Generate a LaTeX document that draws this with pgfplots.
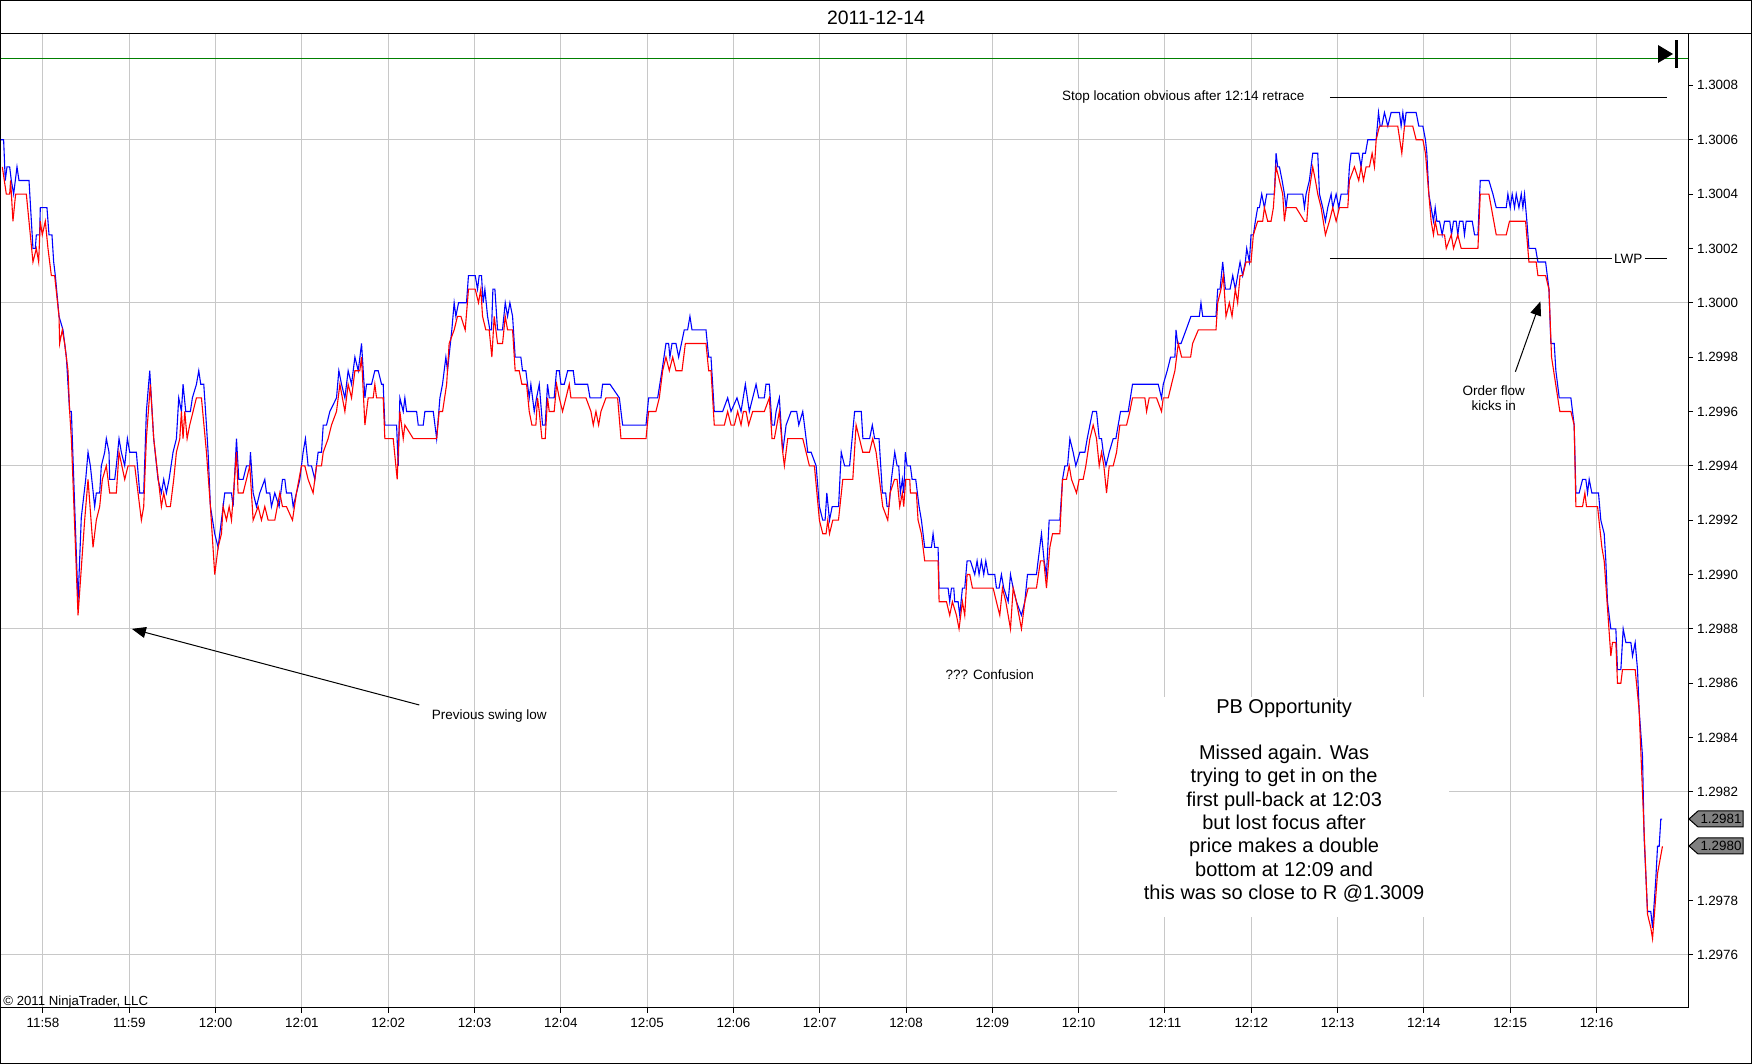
\documentclass[border=0pt]{standalone}
\usepackage{pgfplots}
\pgfplotsset{compat=1.18}
\usepackage{pgfplotstable}
\usepackage{fontspec}
\setmainfont{Liberation Sans}
\usetikzlibrary{arrows.meta}
\definecolor{gridgray}{RGB}{200,200,200}
\definecolor{rline}{RGB}{0,128,0}
\definecolor{tagg}{RGB}{128,128,128}
% time in minutes after 11:58, price in pips relative to 1.3000
\pgfplotstableread{
t p
-0.498 6
-0.456 6
-0.437 4.5
-0.417 5
-0.386 5
-0.367 4.5
-0.340 4
-0.301 5
-0.278 4.5
-0.162 4.5
-0.116 2
-0.089 2
-0.077 2.5
-0.039 2.5
-0.031 3.5
0.046 3.5
0.070 2.5
0.104 2.5
0.124 1.5
0.143 1.0
0.186 -0.5
0.232 -1
0.271 -2
0.309 -4
0.329 -4
0.406 -11
0.444 -7.9
0.495 -6.5
0.522 -5.5
0.549 -6
0.599 -7.5
0.618 -7
0.657 -7
0.676 -6
0.715 -5.5
0.734 -5
0.765 -5.5
0.773 -6.5
0.831 -6.5
0.850 -6
0.881 -5
0.908 -5.5
0.947 -6
0.978 -5
1.005 -5.5
1.082 -5.5
1.121 -7
1.167 -7
1.198 -4
1.237 -2.5
1.283 -5
1.333 -6.5
1.372 -7
1.399 -6.5
1.430 -7
1.461 -6.5
1.507 -5.5
1.546 -5
1.573 -3.5
1.604 -4
1.623 -3
1.654 -4
1.708 -4
1.731 -3.5
1.778 -3
1.805 -2.5
1.828 -3
1.863 -3
1.894 -4.5
1.913 -5.5
1.940 -7.5
1.990 -8.5
2.029 -9
2.068 -8
2.106 -7
2.184 -7
2.203 -7.5
2.242 -5
2.269 -6.5
2.319 -6.5
2.358 -6
2.396 -6
2.404 -5.5
2.435 -7
2.474 -7.5
2.512 -7
2.570 -6.5
2.590 -7
2.628 -7
2.647 -7.5
2.686 -7
2.736 -7.5
2.775 -6.5
2.802 -6.5
2.821 -7
2.879 -7
2.899 -7.5
2.937 -7
2.976 -6.5
3.014 -5.5
3.041 -5
3.072 -6
3.111 -6
3.150 -6.5
3.188 -5.5
3.227 -5.5
3.247 -4.5
3.285 -4.5
3.324 -4
3.401 -3.5
3.428 -2.5
3.459 -3
3.498 -3.5
3.536 -2.5
3.575 -3
3.614 -2
3.653 -2.5
3.691 -1.5
3.730 -3.5
3.749 -3
3.807 -3
3.845 -2.5
3.884 -2.5
3.923 -3
3.942 -3
3.961 -4.5
4.097 -4.5
4.116 -6
4.135 -3.5
4.174 -4
4.193 -3.5
4.213 -4
4.329 -4
4.348 -4.5
4.406 -4.5
4.425 -4
4.522 -4
4.561 -5
4.599 -3.5
4.629 -3
4.668 -2
4.687 -2.5
4.737 -1
4.764 0
4.784 -0.5
4.815 0
4.907 0
4.930 1
5.008 1
5.035 0.5
5.054 1
5.081 1
5.100 0
5.120 0.5
5.151 -0.5
5.178 -1
5.197 -1
5.213 0.5
5.236 0.5
5.267 -1
5.324 -1
5.356 0
5.383 -0.5
5.410 0
5.441 -0.5
5.471 -2
5.537 -2
5.556 -2.5
5.595 -2.5
5.614 -3
5.634 -3.5
5.653 -3
5.692 -4
5.719 -3.5
5.750 -3
5.788 -4.5
5.819 -4.5
5.846 -3
5.866 -3.5
5.923 -3.5
5.950 -2.5
5.982 -2.5
6.001 -3
6.040 -3
6.079 -2.5
6.144 -2.5
6.164 -3
6.311 -3
6.338 -3.5
6.465 -3.5
6.484 -3
6.570 -3
6.678 -3.5
6.716 -4.5
6.987 -4.5
7.017 -3.5
7.122 -3.5
7.172 -2.5
7.218 -1.5
7.249 -1.5
7.264 -2
7.288 -1.5
7.334 -1.5
7.365 -2
7.430 -1
7.469 -1
7.496 -0.5
7.520 -1
7.682 -1
7.713 -2
7.740 -2
7.778 -4
7.875 -4
7.933 -3.5
7.972 -4
8.041 -3.5
8.088 -4
8.138 -3
8.184 -4
8.262 -3
8.293 -3.5
8.358 -3.5
8.377 -3
8.416 -3
8.447 -4.5
8.474 -4.5
8.494 -4
8.532 -3.5
8.571 -5.5
8.610 -4.5
8.668 -4
8.733 -4
8.757 -4.5
8.803 -4
8.842 -5
8.861 -5.5
8.900 -5.5
8.958 -6
8.996 -7.5
9.035 -8
9.062 -8
9.082 -7
9.113 -8
9.144 -7.5
9.218 -7.5
9.249 -5.5
9.288 -6
9.346 -6
9.404 -4
9.481 -4
9.500 -5
9.578 -5
9.609 -4.5
9.636 -5
9.687 -5
9.726 -7
9.764 -7
9.780 -7.5
9.803 -7.5
9.830 -6.5
9.869 -5.5
9.896 -6
9.915 -6
9.934 -7
9.957 -6.5
9.973 -7
9.992 -5.5
10.012 -6
10.050 -6
10.070 -6.5
10.112 -6.5
10.151 -7.5
10.178 -8
10.216 -9
10.294 -9
10.313 -8.5
10.332 -9
10.371 -9
10.383 -10.5
10.487 -10.5
10.506 -11
10.526 -10.5
10.553 -10.5
10.564 -11
10.603 -11
10.622 -11.5
10.653 -10.5
10.680 -10.5
10.707 -9.5
10.746 -9.5
10.796 -10
10.823 -9.5
10.846 -10
10.873 -9.5
10.900 -10
10.924 -9.5
10.951 -10
11.028 -10
11.047 -10.5
11.078 -10.5
11.105 -10
11.132 -10.5
11.183 -11
11.210 -10
11.241 -10.5
11.279 -11
11.337 -11.5
11.376 -11
11.407 -10
11.511 -10
11.530 -9.5
11.569 -8.5
11.600 -9.5
11.627 -10
11.658 -8
11.782 -8
11.813 -6.5
11.840 -6
11.871 -6
11.898 -5
11.936 -5.5
11.967 -6
12.014 -5.5
12.072 -5.5
12.099 -5
12.130 -4.5
12.161 -4
12.207 -4
12.238 -5
12.265 -5
12.285 -5.5
12.316 -6
12.354 -5.5
12.400 -5
12.431 -5
12.458 -4.5
12.485 -4
12.574 -4
12.624 -3
12.922 -3
12.960 -3.5
12.980 -3
13.026 -2.5
13.065 -2
13.115 -2
13.128 -1
13.147 -1.5
13.186 -1.5
13.244 -1
13.301 -0.5
13.398 -0.5
13.417 0
13.437 -0.5
13.591 -0.5
13.611 0.5
13.638 0.5
13.669 1.5
13.700 0.5
13.754 0.5
13.785 1
13.815 0.5
13.842 1
13.870 1.5
13.900 1
13.931 1.5
13.947 2
13.978 1.5
13.997 2.5
14.024 2.5
14.047 3
14.074 3.5
14.094 3.5
14.121 4
14.152 3.5
14.179 4
14.268 4
14.287 5.5
14.306 5
14.326 5
14.357 4.5
14.384 4
14.403 3.5
14.422 4
14.596 4
14.616 3.5
14.635 4
14.673 4.5
14.712 5.5
14.770 5.5
14.790 4
14.828 3.5
14.859 3
14.886 3.5
14.925 4
14.944 3.5
14.983 4
15.014 3.5
15.041 4
15.118 4
15.137 5
15.156 5.5
15.245 5.5
15.272 5
15.292 5.5
15.323 5.5
15.350 6
15.447 6
15.474 7
15.493 6.5
15.512 6.5
15.543 7
15.582 6.5
15.620 7
15.717 7
15.736 6.5
15.756 7
15.775 6.5
15.794 7
15.910 7
15.941 6.5
15.988 6.5
16.018 6
16.034 5.5
16.057 4
16.084 3.5
16.111 3
16.131 3.5
16.150 3
16.181 3
16.212 2.5
16.239 3
16.300 3
16.320 2.5
16.343 3
16.374 3
16.393 2.5
16.413 3
16.452 3
16.470 2.5
16.490 3
16.560 3
16.587 2.5
16.626 2.5
16.653 4.5
16.753 4.5
16.800 4
16.838 3.5
16.954 3.5
16.973 4
17.000 3.5
17.023 4
17.050 3.5
17.070 4
17.101 3.5
17.128 4
17.147 3.5
17.166 4
17.193 3
17.217 2
17.294 2
17.321 1.5
17.410 1.5
17.449 0.5
17.471 -1.5
17.510 -1.5
17.529 -2.5
17.568 -3.5
17.703 -3.5
17.722 -4
17.741 -4.5
17.761 -7
17.799 -7
17.838 -6.5
17.876 -6.5
17.896 -7
17.915 -6.5
17.946 -7
18.023 -7
18.050 -8
18.089 -8.5
18.108 -9.5
18.127 -11
18.166 -12
18.224 -12
18.243 -13.5
18.282 -13.5
18.309 -12
18.340 -12.5
18.398 -12.5
18.417 -13
18.448 -12.5
18.475 -13.5
18.494 -15
18.533 -16.7
18.552 -19.7
18.591 -22.4
18.629 -22.4
18.649 -23
18.687 -21.2
18.707 -20
18.726 -20
18.745 -19
18.760 -19
}\askdata
\pgfplotstableread{
t p
-0.471 5
-0.425 4
-0.386 4
-0.375 4.5
-0.348 3
-0.317 4
-0.193 4
-0.116 1.5
-0.077 2
-0.050 1.5
-0.031 3
-0.008 2.5
0.027 3
0.058 2
0.097 1
0.135 1
0.186 -0.5
0.193 -1.5
0.224 -1
0.251 -1.5
0.290 -2.5
0.309 -4
0.329 -5
0.406 -11.5
0.483 -8
0.522 -6.5
0.580 -9
0.618 -8
0.657 -7.5
0.688 -6.5
0.734 -6
0.773 -7
0.850 -7
0.881 -5.5
0.947 -6.5
0.986 -6
1.063 -6
1.140 -8
1.167 -7.5
1.198 -5
1.244 -3
1.283 -5
1.372 -7.5
1.399 -7
1.430 -7.5
1.476 -7.5
1.515 -6.5
1.546 -5.5
1.585 -5
1.604 -4
1.623 -5
1.643 -4
1.670 -5
1.700 -4.5
1.739 -4
1.778 -3.5
1.836 -3.5
1.894 -5.5
1.940 -7.5
1.990 -10
2.029 -9
2.068 -8.5
2.087 -7.5
2.126 -8
2.157 -7.5
2.184 -8
2.242 -5.5
2.261 -7
2.319 -7
2.358 -6.5
2.396 -6
2.435 -8
2.493 -7.5
2.531 -8
2.570 -7.5
2.609 -8
2.686 -8
2.744 -7
2.775 -7.5
2.821 -7.5
2.891 -8
2.937 -7
2.995 -6
3.034 -6
3.072 -6.5
3.130 -7
3.169 -6
3.227 -6
3.247 -5.5
3.304 -5
3.343 -4.5
3.401 -4
3.440 -3
3.498 -4
3.536 -3
3.575 -3.5
3.614 -2.5
3.671 -2.5
3.691 -2
3.730 -4.5
3.768 -3.5
3.826 -3.5
3.845 -3
3.865 -3.5
3.942 -3.5
3.961 -5
4.058 -5
4.104 -6.5
4.135 -4
4.174 -5
4.193 -4.5
4.290 -5
4.561 -5
4.591 -4
4.630 -4
4.677 -3
4.706 -1.5
4.764 -1
4.803 -0.5
4.842 -0.5
4.892 -1
4.930 0.5
5.008 0.5
5.046 0
5.073 0.5
5.093 -0.5
5.131 -1
5.170 -1
5.201 -2
5.228 -0.5
5.267 -1.5
5.325 -1.5
5.356 -0.5
5.383 -1
5.441 -1
5.471 -2.5
5.518 -2.5
5.549 -3
5.603 -3
5.634 -4
5.665 -4.5
5.711 -4.5
5.730 -3.5
5.750 -4
5.781 -5
5.819 -5
5.846 -3.5
5.866 -4
5.923 -4
5.951 -3
5.982 -3.5
6.020 -4
6.059 -3.5
6.098 -3
6.117 -3.5
6.291 -3.5
6.349 -4
6.376 -4.5
6.407 -4
6.438 -4.5
6.465 -4
6.523 -3.5
6.658 -3.5
6.697 -5
6.987 -5
7.017 -4
7.102 -4
7.141 -3.5
7.180 -2.5
7.218 -2
7.257 -2.5
7.296 -2
7.334 -2.5
7.404 -2.5
7.443 -1.5
7.682 -1.5
7.713 -2.5
7.740 -2.5
7.778 -4.5
7.895 -4.5
7.933 -4
7.972 -4.5
8.011 -4.5
8.049 -4
8.088 -4.5
8.115 -4
8.146 -4
8.176 -4.5
8.223 -4
8.358 -4
8.416 -3.5
8.447 -5
8.474 -5
8.532 -4
8.571 -5.5
8.590 -6
8.629 -5
8.803 -5
8.842 -5.5
8.880 -6
8.938 -6
8.996 -8
9.035 -8.5
9.073 -8.5
9.093 -8
9.113 -8.5
9.151 -8
9.217 -8
9.267 -6.5
9.383 -6.5
9.421 -4.5
9.460 -5
9.498 -5.5
9.576 -5.5
9.614 -5
9.653 -5.5
9.730 -7.5
9.788 -8
9.815 -7
9.866 -6.5
9.896 -6.5
9.927 -7.5
9.957 -7
9.973 -7.5
9.996 -6.5
10.043 -6.5
10.050 -7
10.120 -7
10.139 -8
10.178 -8.5
10.216 -9.5
10.371 -9.5
10.383 -11
10.468 -11
10.506 -11.5
10.537 -11
10.584 -11.5
10.614 -12
10.653 -11
10.680 -11.5
10.707 -10
10.738 -10
10.769 -10.5
11.009 -10.5
11.047 -11
11.086 -11.5
11.117 -10.5
11.156 -11
11.210 -12
11.241 -10.5
11.279 -11
11.337 -12
11.376 -11
11.414 -10.5
11.511 -10.5
11.557 -9.5
11.596 -9.5
11.627 -10.5
11.666 -9
11.697 -8.5
11.782 -8.5
11.813 -6.5
11.859 -6.5
11.890 -6
11.917 -6.5
11.975 -7
12.006 -6.5
12.052 -6.5
12.083 -6
12.130 -5
12.168 -4.5
12.207 -5
12.238 -6
12.265 -5.5
12.292 -6
12.323 -7
12.354 -6
12.400 -6
12.439 -5.5
12.477 -4.5
12.555 -4.5
12.593 -4
12.624 -3.5
12.767 -3.5
12.787 -4
12.817 -3.5
12.902 -3.5
12.960 -4
12.980 -3.5
13.038 -3.5
13.076 -3
13.115 -2.5
13.154 -1.5
13.193 -2
13.297 -2
13.320 -1.5
13.386 -1
13.591 -1
13.611 0
13.649 0.5
13.676 1
13.707 -0.5
13.746 0
13.777 -0.5
13.815 0.5
13.842 0
13.870 1
13.900 1
13.939 1.5
13.997 1.5
14.024 2.5
14.074 3
14.132 3
14.152 3.5
14.190 3
14.229 3
14.256 3.5
14.287 5
14.326 4.5
14.364 4
14.384 3
14.403 3.5
14.519 3.5
14.616 3
14.643 3
14.666 4
14.712 5
14.743 4.5
14.770 4
14.809 3.5
14.859 2.5
14.905 3
14.944 3.5
14.983 3
15.021 3.5
15.118 3.5
15.137 4.5
15.195 5
15.245 4.5
15.272 5
15.300 4.5
15.330 5
15.369 5
15.400 5.5
15.427 5
15.447 6
15.485 6.5
15.697 6.5
15.744 5.5
15.775 6.5
15.871 6.5
15.910 6
15.988 6
16.018 5.5
16.057 4
16.084 3
16.111 2.5
16.131 3
16.162 2.5
16.239 2.5
16.259 2
16.317 2.5
16.343 2
16.393 2.5
16.432 2
16.626 2
16.653 4
16.753 4
16.838 2.5
16.954 2.5
16.992 3
17.178 3
17.217 1.5
17.301 1.5
17.321 1
17.410 1
17.449 0.5
17.479 -2
17.575 -4
17.703 -4
17.741 -4.5
17.761 -7.5
17.838 -7.5
17.865 -7
17.884 -7.5
18.012 -7.5
18.062 -9
18.089 -9.5
18.166 -13
18.185 -12.5
18.224 -12.5
18.243 -14
18.282 -14
18.301 -13.5
18.448 -13.5
18.494 -15
18.552 -19.5
18.591 -22.5
18.629 -23
18.649 -23.4
18.707 -21
18.764 -20
}\biddata
\begin{document}
\begin{tikzpicture}
\useasboundingbox (0,0) rectangle (876pt,532pt);
\begin{axis}[
  at={(0pt,28pt)}, anchor=south west,
  scale only axis, width=844pt, height=487pt,
  xmin=-0.498, xmax=19.06, ymin=-25.95, ymax=9.89,
  clip=false,
  axis line style={black, line width=0.5pt},
  xtick={0,1,...,18},
  xticklabels={11:58,11:59,12:00,12:01,12:02,12:03,12:04,12:05,12:06,12:07,12:08,12:09,12:10,12:11,12:12,12:13,12:14,12:15,12:16},
  ytick={-24,-22,...,8},
  yticklabels={1.2976,1.2978,1.2980,1.2982,1.2984,1.2986,1.2988,1.2990,1.2992,1.2994,1.2996,1.2998,1.3000,1.3002,1.3004,1.3006,1.3008},
  xtick pos=left, ytick pos=right, yticklabel pos=right,
  tick align=outside, major tick length=2.5pt,
  tick style={black, line width=0.5pt},
  minor tick num=0,
  xmajorgrids,
  grid style={gridgray, line width=0.5pt},
  extra y ticks={-24,-18,-12,-6,0,6},
  extra y tick labels={},
  extra y tick style={grid=major, major tick length=0pt},
  tick label style={font=\fontsize{6.7}{7}\selectfont, text=black},
  xticklabel style={yshift=1pt},
  yticklabel style={xshift=-1.5pt},
]
\addplot[blue, line width=0.55pt] table[x=t,y=p] {\askdata};
\addplot[red, line width=0.55pt] table[x=t,y=p] {\biddata};
\addplot[rline, line width=0.55pt] coordinates {(-0.498,9) (19.06,9)};
% annotations
\draw[black, line width=0.5pt] (axis cs:14.91,7.55) -- (axis cs:18.82,7.55);
\node[anchor=east, inner sep=0pt, font=\fontsize{6.75}{8}\selectfont] at (axis cs:14.62,7.58) {Stop location obvious after 12:14 retrace};
\draw[black, line width=0.5pt] (axis cs:14.91,1.62) -- (axis cs:18.18,1.62);
\node[anchor=west, inner sep=0pt, font=\fontsize{6.75}{8}\selectfont] at (axis cs:18.20,1.62) {LWP};
\draw[black, line width=0.5pt] (axis cs:18.56,1.62) -- (axis cs:18.82,1.62);
\node[align=center, inner sep=0pt, font=\fontsize{6.75}{7.5}\selectfont] at (axis cs:16.81,-3.5) {Order flow\\kicks in};
\draw[line width=0.5pt, -{Triangle[length=7pt,width=5.5pt]}] (axis cs:17.06,-2.54) -- (axis cs:17.35,0.05);
\node[inner sep=0pt, font=\fontsize{6.75}{8}\selectfont] at (axis cs:10.97,-13.69) {??? Confusion};
\node[inner sep=0pt, font=\fontsize{6.75}{8}\selectfont] at (axis cs:5.17,-15.2) {Previous swing low};
\draw[line width=0.5pt, -{Triangle[length=7pt,width=5.5pt]}] (axis cs:4.36,-14.8) -- (axis cs:1.03,-12.0);
\fill[white] (axis cs:12.44,-14.5) rectangle (axis cs:16.29,-22.6);
\node[align=center, inner sep=0pt, font=\fontsize{10}{11.65}\selectfont] at (axis cs:14.38,-18.31) {PB Opportunity\\\mbox{}\\Missed again. Was\\trying to get in on the\\first pull-back at 12:03\\but lost focus after\\price makes a double\\bottom at 12:09 and\\this was so close to R @1.3009};
\node[anchor=base west, inner sep=0pt, font=\fontsize{6.6}{7}\selectfont] at (axis cs:-0.498,-25.95) [xshift=1.5pt, yshift=1.2pt] {© 2011 NinjaTrader, LLC};
\end{axis}
% frame, title and markers
\draw[black, line width=0.5pt] (0.25pt,0.25pt) rectangle (875.75pt,531.75pt);
\draw[black, line width=0.5pt] (0pt,515pt) -- (876pt,515pt);
\node[font=\fontsize{9.7}{11}\selectfont] at (438pt,523pt) {2011-12-14};
\fill[black] (829pt,509.5pt) -- (829pt,500.5pt) -- (836.5pt,505pt) -- cycle;
\fill[black] (837.5pt,498pt) rectangle (839pt,512pt);
\filldraw[fill=tagg, draw=black, line width=0.5pt] (844.5pt,122.5pt) -- (849pt,126.5pt) -- (871.5pt,126.5pt) -- (871.5pt,118.5pt) -- (849pt,118.5pt) -- cycle;
\node[font=\fontsize{6.7}{7}\selectfont] at (860.5pt,122.5pt) {1.2981};
\filldraw[fill=tagg, draw=black, line width=0.5pt] (844.5pt,109pt) -- (849pt,113pt) -- (871.5pt,113pt) -- (871.5pt,105pt) -- (849pt,105pt) -- cycle;
\node[font=\fontsize{6.7}{7}\selectfont] at (860.5pt,109pt) {1.2980};
\end{tikzpicture}
\end{document}
